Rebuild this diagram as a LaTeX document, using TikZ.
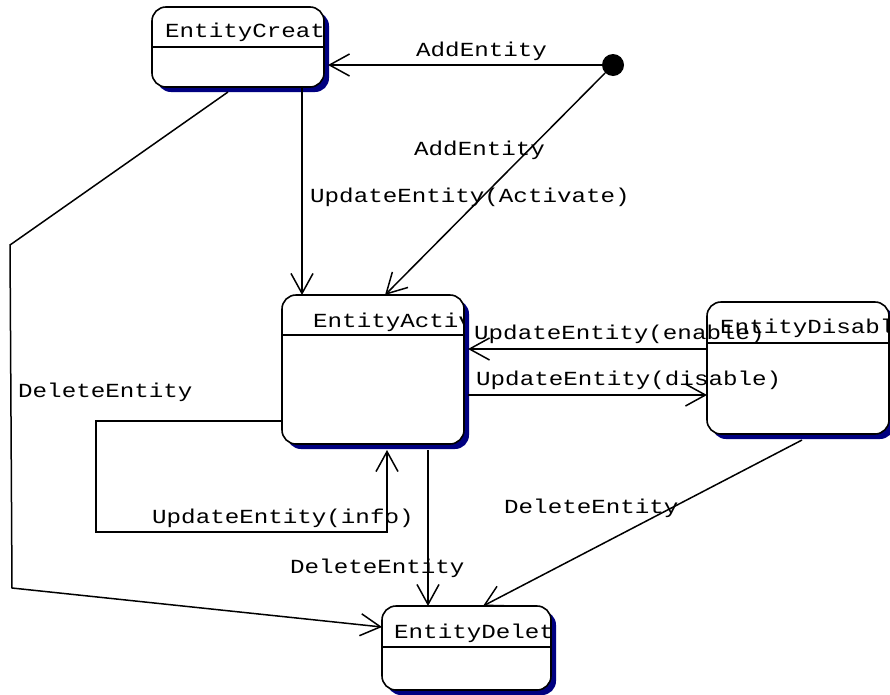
\documentclass[tikz,border=0pt]{standalone}
\usepackage{fontspec}
\usetikzlibrary{arrows.meta,calc,shadows}
\newfontfamily\umlfont[FakeStretch=1.21]{Liberation Mono}
\definecolor{ShadowNavy}{HTML}{000080}
\newcommand{\umltitle}[3]{%
  \begin{scope}
    \clip (#1.north west) rectangle (#1.south east);
    \node[statetitle] (#1-title) at #2 {#3};
  \end{scope}}

\begin{document}
\begin{tikzpicture}[x=1pt,y=-1pt,
    every node/.style={font={\umlfont\fontsize{20}{24}\selectfont}},
    umlstate/.style={draw,fill=white,line width=1.6pt,rounded corners=14pt,inner sep=0pt,outer sep=0pt,anchor=north west,
      drop shadow={shadow xshift=5pt,shadow yshift=-5pt,fill=ShadowNavy,opacity=1}},
    statetitle/.style={anchor=base west,inner sep=0pt},
    trans/.style={-{Straight Barb[length=20pt,width=22pt]},line width=1.5pt},
    lbl/.style={anchor=base west,inner sep=0pt}]
      \useasboundingbox (0,0) rectangle (890,694);

      % states
      \node[umlstate,minimum width=172pt,minimum height=80pt] (created) at (152,7) {};
      \node[umlstate,minimum width=182pt,minimum height=149pt] (active) at (282,295) {};
      \node[umlstate,minimum width=182pt,minimum height=132pt] (disabled) at (707,302) {};
      \node[umlstate,minimum width=169pt,minimum height=84pt] (deleted) at (382,606) {};
      \node[circle,fill=black,minimum size=22pt,inner sep=0pt] (init) at (613,65) {};

      \draw[line width=1.4pt] ($(created.north west)+(0,40)$) -- ($(created.north east)+(0,40)$);
      \draw[line width=1.4pt] ($(active.north west)+(0,40)$) -- ($(active.north east)+(0,40)$);
      \draw[line width=1.4pt] ($(disabled.north west)+(0,41)$) -- ($(disabled.north east)+(0,41)$);
      \draw[line width=1.4pt] ($(deleted.north west)+(0,41)$) -- ($(deleted.north east)+(0,41)$);

      \umltitle{created}{(165,37)}{EntityCreat}
      \umltitle{active}{(313,327)}{EntityActiv}
      \umltitle{disabled}{(720,333)}{EntityDisabl}
      \umltitle{deleted}{(394,638)}{EntityDelet}

      % transitions
      \draw[trans] (init) -- ($(init -| created.east)+(4,0)$);
      \draw[trans] (init) -- ($(active.north west)+(103,0)$);
      \draw[trans] ($(created.south east)+(-22,0)$) -- ($(active.north west)+(20,0)$);
      \draw[trans] ($(created.south west)+(76,5)$) -- (10,245) -- (12,588) -- ($(deleted.west)+(0,-21)$);
      \draw[trans] ($(disabled.west)+(0,-19)$) -- ($(active.east)+(4,-20.5)$);
      \draw[trans] ($(active.east)+(4,25.5)$) -- ($(disabled.west)+(0,27)$);
      \draw[trans] ($(active.west)+(0,51.5)$) -- (96,421) -- (96,532) -- (387,532) -- ($(active.south west)+(105,6)$);
      \draw[trans] ($(active.south west)+(146,6)$) -- ($(deleted.north west)+(46,0)$);
      \draw[trans] ($(disabled.south west)+(95,6)$) -- ($(deleted.north west)+(101,0)$);

      % labels
      \node[lbl] (l-add1) at (416,56) {AddEntity};
      \node[lbl] (l-add2) at (414,155) {AddEntity};
      \node[lbl] (l-act) at (310,202) {UpdateEntity(Activate)};
      \node[lbl] (l-del1) at (18,397) {DeleteEntity};
      \node[lbl] (l-en) at (474,339) {UpdateEntity(enable)};
      \node[lbl] (l-dis) at (476,385) {UpdateEntity(disable)};
      \node[lbl] (l-info) at (152,523) {UpdateEntity(info)};
      \node[lbl] (l-del2) at (290,573) {DeleteEntity};
      \node[lbl] (l-del3) at (504,513) {DeleteEntity};
    \end{tikzpicture}
\end{document}
